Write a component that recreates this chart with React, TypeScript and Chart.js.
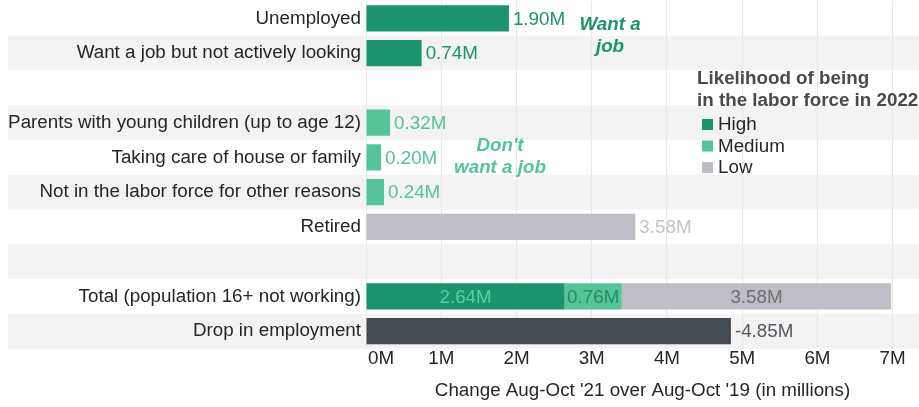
import { useEffect, useRef } from 'react';
import { Chart, registerables } from 'chart.js';

Chart.register(...registerables);

// ---- data ----
const categories = [
  'Unemployed',
  'Want a job but not actively looking',
  '',
  'Parents with young children (up to age 12)',
  'Taking care of house or family',
  'Not in the labor force for other reasons',
  'Retired',
  ' ',
  'Total (population 16+ not working)',
  'Drop in employment',
];
const highValues = [1.9, 0.74, null, null, null, null, null, null, 2.64, null];
const mediumValues = [null, null, null, 0.32, 0.2, 0.24, null, null, 0.76, null];
const lowValues = [null, null, null, null, null, null, 3.58, null, 3.58, null];
const dropValues = [null, null, null, null, null, null, null, null, null, 4.85];
const seriesNames = ['High', 'Medium', 'Low', 'Drop in employment'];
const xMax = 7.35;
const xTickStep = 1;
const axisTitle = "Change Aug-Oct '21 over Aug-Oct '19 (in millions)";
const legendTitle = ['Likelihood of being', 'in the labor force in 2022'];
const legendItems = ['High', 'Medium', 'Low'];
const noteWant = ['Want a', 'job'];
const noteDont = ["Don't", 'want a job'];

// ---- styles ----
const FONT = "'Liberation Sans', Arial, sans-serif";
const FS = 18.8;
const barColors = ['#1a936e', '#55c498', '#bfbec4', '#454a51'];
const outsideLabelColors = ['#1a936e', '#55c498', '#c4c4ca', '#53585e'];
const insideLabelColors = ['#55d3a0', '#2a8a63', '#6d6d73', '#ffffff'];
const labelPrefix = ['', '', '', '-'];
const textColor = '#262626';

const bandsPlugin = {
  id: 'bands',
  beforeDraw(chart: any) {
    const { ctx, chartArea } = chart;
    const y = chart.scales.y;
    const n = categories.length;
    const h = (chartArea.bottom - chartArea.top) / n;
    ctx.save();
    ctx.fillStyle = '#f3f3f3';
    for (let i = 1; i < n; i += 2) {
      const c = y.getPixelForValue(i);
      ctx.fillRect(8, c - h / 2, chart.width - 8, h);
    }
    ctx.restore();
  },
};

const labelsPlugin = {
  id: 'barLabels',
  afterDatasetsDraw(chart: any) {
    const { ctx } = chart;
    ctx.save();
    ctx.font = `${FS}px ${FONT}`;
    ctx.textBaseline = 'middle';
    const n = categories.length;
    for (let i = 0; i < n; i++) {
      const present = chart.data.datasets.filter((d: any) => d.data[i] != null).length;
      chart.data.datasets.forEach((ds: any, di: number) => {
        const v = ds.data[i];
        if (v == null) return;
        const bar = chart.getDatasetMeta(di).data[i];
        const { x, y, base } = bar.getProps(['x', 'y', 'base'], true);
        const text = labelPrefix[di] + v.toFixed(2) + 'M';
        if (present > 1) {
          ctx.textAlign = 'center';
          ctx.fillStyle = insideLabelColors[di];
          ctx.fillText(text, (x + base) / 2, y + 1);
        } else {
          ctx.textAlign = 'left';
          ctx.fillStyle = outsideLabelColors[di];
          ctx.fillText(text, x + 4, y + 1);
        }
      });
    }
    ctx.restore();
  },
};

const decorPlugin = {
  id: 'decor',
  afterDraw(chart: any) {
    const { ctx } = chart;
    const xs = chart.scales.x;
    ctx.save();
    // x tick labels
    ctx.font = `${FS}px ${FONT}`;
    ctx.fillStyle = textColor;
    ctx.textBaseline = 'middle';
    xs.ticks.forEach((t: any, k: number) => {
      const px = xs.getPixelForValue(t.value);
      ctx.textAlign = k === 0 ? 'left' : 'center';
      ctx.fillText(`${t.value}M`, k === 0 ? px + 2 : px, 359);
    });
    // annotations
    ctx.font = `italic bold ${FS}px ${FONT}`;
    ctx.textAlign = 'center';
    ctx.fillStyle = barColors[0];
    ctx.fillText(noteWant[0], 610, 25);
    ctx.fillText(noteWant[1], 610, 47);
    ctx.fillStyle = barColors[1];
    ctx.fillText(noteDont[0], 500, 146);
    ctx.fillText(noteDont[1], 500, 168);
    // legend
    ctx.textAlign = 'left';
    ctx.font = `bold ${FS}px ${FONT}`;
    ctx.fillStyle = '#4a4a4a';
    ctx.fillText(legendTitle[0], 697, 79);
    ctx.fillText(legendTitle[1], 697, 101);
    ctx.font = `${FS}px ${FONT}`;
    legendItems.forEach((name, k) => {
      const cy = 124 + k * 21.5;
      ctx.fillStyle = barColors[k];
      ctx.fillRect(702, cy - 5, 11, 11);
      ctx.fillStyle = textColor;
      ctx.fillText(name, 718, cy + 1);
    });
    ctx.restore();
  },
};

export default function App() {
  const ref = useRef<HTMLCanvasElement>(null);
  useEffect(() => {
    if (!ref.current) return;
    const mk = (k: number, data: (number | null)[]) => ({
      label: seriesNames[k],
      data,
      backgroundColor: barColors[k],
      borderWidth: 0,
      categoryPercentage: 0.76,
      barPercentage: 1,
    });
    const chart = new Chart(ref.current, {
      type: 'bar',
      data: {
        labels: categories,
        datasets: [mk(0, highValues), mk(1, mediumValues), mk(2, lowValues), mk(3, dropValues)],
      },
      plugins: [bandsPlugin, labelsPlugin, decorPlugin],
      options: {
        indexAxis: 'y',
        animation: false,
        responsive: true,
        maintainAspectRatio: false,
        layout: { padding: { top: 1, left: 0, right: 0, bottom: 0 } },
        plugins: { legend: { display: false }, tooltip: { enabled: false } },
        scales: {
          x: {
            stacked: true,
            min: 0,
            max: xMax,
            border: { display: false },
            grid: { color: '#e8e8e8', drawTicks: false },
            ticks: { display: false, stepSize: xTickStep, includeBounds: false },
            title: {
              display: true,
              text: axisTitle,
              color: textColor,
              font: { family: FONT, size: FS },
              padding: { top: 0, bottom: 5 },
            },
            afterFit: (s: any) => {
              s.height = 58.5;
              s.paddingLeft = 0;
              s.paddingRight = 0;
            },
          },
          y: {
            stacked: true,
            border: { display: false },
            grid: { display: false, drawTicks: false },
            ticks: { color: textColor, font: { family: FONT, size: FS }, padding: 5, autoSkip: false },
            afterFit: (s: any) => {
              s.width = 366;
              s.paddingTop = 0;
              s.paddingBottom = 0;
            },
          },
        },
      },
    });
    return () => chart.destroy();
  }, []);
  return (
    <div style={{ position: 'fixed', left: 0, top: 0, width: 919, height: 407, background: '#fff' }}>
      <canvas ref={ref} />
    </div>
  );
}
